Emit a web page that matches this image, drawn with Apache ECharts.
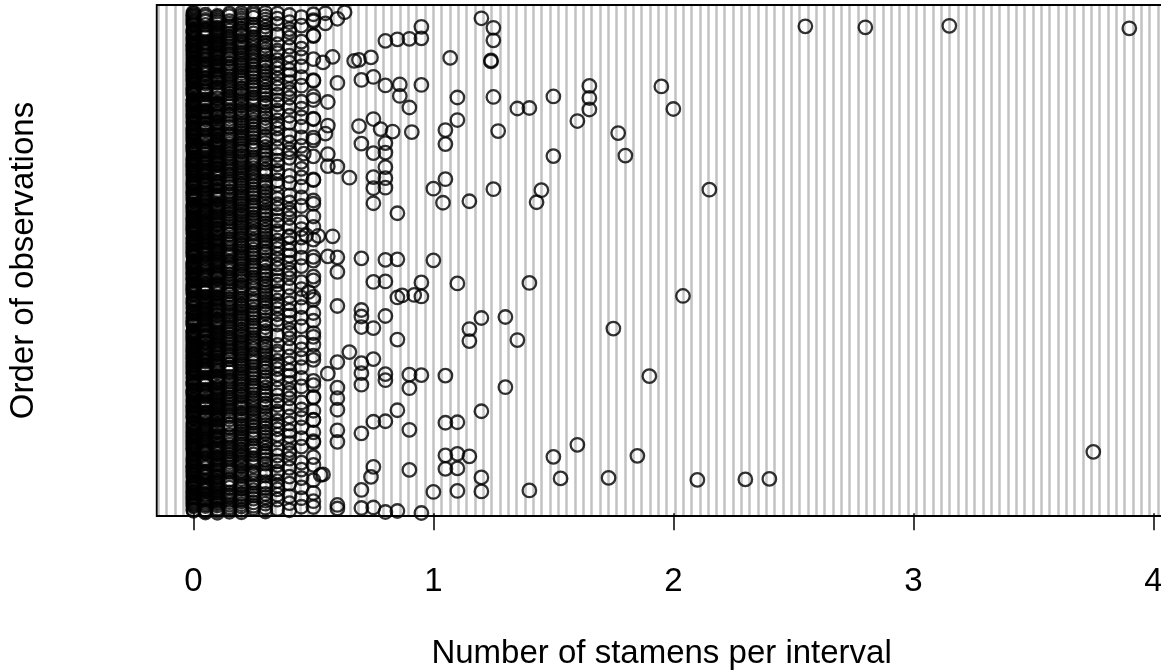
<!DOCTYPE html>
<html>
<head>
<meta charset="utf-8">
<script src="https://cdn.jsdelivr.net/npm/echarts@6/dist/echarts.min.js"></script>
<style>
  html, body { margin: 0; padding: 0; background: #fff; }
  #chart { width: 1161px; height: 671px; }
</style>
</head>
<body>
<div id="chart"></div>
<script>
// Number of stamens per interval, in order of observation (observation 1 = bottom of the plot)
const stamens = [
  // observations 1-80
  0.95,0.1,0.05,0.2,0.8,0.15,0.3,0.05,0.85,0, 0.1,0.4,0.05,0.2,0,0.15,0.35,0.1,0.6,0.25,
  0.7,0.3,0.75,0.15,0.5,0.45,0.2,0,0.05,0.25, 0.1,0,0.6,0.15,0.05,0.2,0,0.3,0.1,0.4,
  0,0.05,0.25,0.15,0.1,0,0.2,0.5,0.05,0.3, 0,0.1,0.15,0.35,0.05,0.2,0,0.25,0.1,0.45,
  0.05,0,0.3,0.15,0.1,0.2,0,0.4,0.05,0.25, 0.1,0,0.15,0.35,0.05,0.2,0.3,0,0.1,0.25,
  // 81-160
  0.5,0,0.15,0.1,1,0,1.2,0.05,1.1,0.1, 1.4,0.25,0.7,0.05,0.35,0,0.1,0.2,0.05,0.3,
  0,0.15,0.45,0.1,0.05,0.25,0,0.2,0.1,0.35, 0.05,0,0.3,0.15,0.2,0.1,0,0.4,0.05,0.25,
  0.1,0,0.15,0.3,0.05,0.2,0,0.35,0.1,0.25, 0.05,0.5,2.1,0.15,2.3,0.2,2.4,0,1.53,0.45,
  1.73,0.1,1.2,0.05,0.74,0.4,0,0.2,0.1,0.3, 0.05,0,0.53,0.25,0.54,0.35,0,0.2,0.05,0.3,
  // 161-240
  0.1,0.05,0.25,0,0.15,0.35,0.05,0,0.2,0.1, 0.3,0,0.9,0.45,0.15,0.1,1.05,0,1.1,0.05,
  0.4,0,0.1,0.15,0.75,0.05,0,0.2,0.25,0.1, 0,0.35,0.5,0.15,0.1,0,0.2,0.3,0.05,0.25,
  0.1,0.45,0,0.15,0.05,0.2,0.35,0,0.1,0.25, 0.05,0,0.3,0.15,0.2,0.1,0,0.4,0.05,0.25,
  0,0.15,0.1,0.5,1.5,0.2,1.15,0.3,1.85,0.35, 1.05,0,0.2,0.15,0.25,0.1,1.1,0.3,0.05,0.4,
  // 241-320
  0,0.1,0.05,0.2,3.75,0.15,0.3,0.05,0.25,0, 0.1,0.4,0.05,0.2,0,0.15,0.35,0.1,0,0.25,
  0.05,0.3,0,0.15,0.1,0.45,0.2,0,0.05,0.25, 0.1,0,1.6,0.15,0.05,0.2,0,0.3,0.1,0.4,
  0,0.05,0.5,0.15,0.6,0,0.2,0.5,0.05,0.3, 0,0.1,0.15,0.35,0.05,0.2,0,0.25,0.1,0.45,
  0.05,0,0.3,0.15,0.1,0.2,0,0.4,0.05,0.25, 0.1,0,0.15,0.35,0.05,0.2,0.3,0,0.7,0.25,
  // 321-400
  0.05,0,0.5,0.1,0.3,0,0.2,0.05,0.4,0.1, 0.6,0.25,0.9,0.05,0.35,0,0.1,0.2,0.05,0.3,
  0,0.15,0.45,0.1,0.05,0.25,0,0.2,0.1,0.35, 0.05,0,0.3,0.15,0.2,0.1,0,0.4,0.05,0.25,
  1.05,0,1.1,0.3,0.75,0.2,0.8,0.35,0.1,0.25, 0.05,0.5,0.5,0.15,0.1,0.2,0.3,0,0.05,0.45,
  0,0.1,0.25,0.05,0.15,0.4,0,0.2,0.1,0.3, 0.05,0,0.15,0.25,0.1,0.35,0,0.2,0.05,0.3,
  // 401-480
  0.1,0.05,0.25,0,0.15,0.35,1.2,0,0.5,0.1, 0.85,0,0.6,0.45,0.15,0.1,0.25,0,0.2,0.05,
  0.4,0,0.1,0.15,0.3,0.05,0,0.2,0.25,0.1, 0,0.35,0.05,0.15,0.1,0,0.2,0.3,0.05,0.25,
  0.1,0.45,0,0.15,0.05,0.2,0.35,0,0.1,0.25, 0.05,0,0.3,0.15,0.2,0.1,0,0.4,0.6,0.25,
  0.5,0.15,0.1,0.5,0.05,0.2,0,0.3,0.1,0.35, 0.05,0,0.2,0.15,0.25,0.1,0,0.3,0.05,0.4,
  // 481-560
  0,0.1,0.05,0.2,0,0.15,0.3,0.05,0.25,0, 0.1,0.4,0.05,0.2,0,0.15,0.35,0.1,0.9,0.25,
  0.6,0.3,1.3,0.15,0.1,0.45,0.2,0,0.05,0.25, 0.5,0,0.7,0.15,0.05,0.2,0,0.3,0.1,0.4,
  0,0.05,0.25,0.15,0.1,0,0.2,0.5,0.05,0.3, 0.8,0.1,0.15,0.35,0.05,0.2,0,0.25,0.1,0.45,
  0.05,0,0.3,0.15,0.1,0.2,1.9,0.4,1.05,0.25, 0.95,0,0.9,0.35,0.8,0.2,0.56,0,0.7,0.25,
  // 561-640
  0.05,0,0.15,0.1,0.3,0,0.2,0.05,0.4,0.1, 0,0.25,0.15,0.05,0.35,0,0.1,0.2,0.05,0.3,
  0,0.15,0.45,0.1,0.05,0.25,0,0.2,0.1,0.35, 0.05,0,0.3,0.15,0.2,0.1,0,0.4,0.7,0.25,
  0.1,0,0.6,0.3,0.05,0.2,0,0.35,0.1,0.25, 0.05,0.5,0,0.15,0.75,0.2,0.3,0,0.05,0.45,
  0,0.1,0.25,0.05,0.15,0.4,0,0.2,0.5,0.3, 0.05,0,0.15,0.25,0.1,0.35,0,0.2,0.05,0.3,
  // 641-720
  0.1,0.05,0.65,0,0.15,0.35,0.05,0,0.2,0.1, 0.3,0,0.05,0.45,0.15,0.1,0.25,0,0.2,0.05,
  0.4,0,0.1,0.15,0.3,0.05,0,0.2,0.25,0.1, 0,0.35,0.5,0.15,0.1,0,0.2,0.3,0.05,0.25,
  0.1,0.45,0,0.15,0.05,0.2,1.15,0,0.1,0.25, 1.35,0,0.85,0.15,0.2,0.1,0,0.4,0.05,0.25,
  0,0.15,0.1,0.5,0.05,0.2,0,0.3,0.1,0.35, 0.05,0,0.2,0.15,0.25,0.1,0,0.3,0.5,0.4,
  // 721-800
  0,0.1,0.05,0.2,0,0.15,0.3,0.05,0.25,0, 0.1,0.4,0.05,0.2,1.15,0.15,1.75,0.1,0.75,0.25,
  0.05,0.3,0.7,0.15,0.1,0.45,0.2,0,0.05,0.25, 0.1,0,0.35,0.15,0.05,0.2,0,0.3,0.1,0.4,
  0,0.05,0.25,0.15,0.1,0,0.2,0.5,0.05,0.3, 0,0.1,0.15,0.35,0.05,0.2,0,0.25,1.2,0.45,
  0.05,0,1.3,0.15,0.7,0.2,0.8,0.4,0.05,0.25, 0.1,0,0.15,0.35,0.05,0.2,0.3,0,0.5,0.25,
  // 801-880
  0.05,0,0.15,0.1,0.3,0,0.2,0.05,0.4,0.1, 0.7,0.25,0.15,0.05,0.35,0,0.1,0.2,0.05,0.3,
  0,0.15,0.45,0.1,0.05,0.25,0.6,0.2,0.1,0.35, 0.05,0,0.3,0.15,0.2,0.1,0,0.4,0.05,0.25,
  0.1,0,0.15,0.3,0.05,0.2,0,0.35,0.1,0.25, 0.05,0.5,0,0.15,0.1,0.2,0.3,0,0.05,0.45,
  0.85,0.1,0.5,0.05,0.95,0.4,2.04,0.2,0.87,0.3, 0.92,0,0.15,0.25,0.1,0.35,0,0.2,0.05,0.3,
  // 881-960
  0.1,0.05,0.48,0,0.15,0.35,0.05,0,0.2,0.1, 0.3,0,0.05,0.45,0.15,0.1,0.25,0,0.2,0.05,
  0.4,0,0.1,0.15,0.3,0.05,0,0.2,0.25,0.1, 0,0.35,0.05,0.15,0.1,0,1.1,0.3,1.4,0.25,
  0.95,0.45,0.75,0.15,0.8,0.2,0.35,0,0.5,0.25, 0.05,0,0.3,0.15,0.2,0.1,0,0.4,0.05,0.25,
  0,0.15,0.1,0.5,0.05,0.2,0,0.3,0.1,0.35, 0.05,0,0.2,0.15,0.25,0.1,0,0.3,0.05,0.4,
  // 961-1040
  0,0.1,0.6,0.2,0,0.15,0.3,0.05,0.25,0, 0.1,0.4,0.05,0.2,0,0.15,0.35,0.1,0,0.25,
  0.05,0.3,0,0.15,0.1,0.45,0.2,0,0.05,0.25, 0.1,0,0.35,0.15,0.05,0.2,0,0.3,0.1,0.4,
  0,0.05,0.25,0.15,0.1,0,0.2,0.5,1,0.3, 0.8,0.1,0.85,0.35,0.05,0.2,0.7,0.25,0.1,0.45,
  0.6,0,0.5,0.15,0.56,0.2,0,0.4,0.05,0.25, 0.1,0,0.15,0.35,0.05,0.2,0.3,0,0.1,0.25,
  // 1041-1120
  0.05,0,0.15,0.1,0.3,0,0.2,0.05,0.4,0.1, 0,0.25,0.15,0.05,0.35,0,0.1,0.2,0.05,0.3,
  0,0.15,0.45,0.1,0.05,0.25,0,0.2,0.1,0.35, 0.05,0,0.3,0.15,0.2,0.1,0,0.4,0.05,0.25,
  0.1,0,0.15,0.3,0.05,0.2,0,0.35,0.1,0.25, 0.05,0.5,0,0.15,0.1,0.2,0.3,0,0.05,0.45,
  0,0.1,0.4,0.05,0.58,0.4,0.52,0.2,0.47,0.3, 0.05,0,0.15,0.25,0.1,0.35,0,0.2,0.05,0.3,
  // 1121-1200
  0.1,0.05,0.25,0,0.15,0.35,0.05,0,0.2,0.1, 0.3,0,0.05,0.45,0.15,0.1,0.25,0,0.2,0.05,
  0.4,0,0.5,0.15,0.3,0.05,0,0.2,0.25,0.1, 0,0.35,0.05,0.15,0.1,0,0.2,0.3,0.05,0.25,
  0.1,0.45,0,0.15,0.05,0.2,0.35,0,0.1,0.25, 0.05,0,0.3,0.15,0.2,0.1,0,0.4,0.05,0.25,
  0,0.15,0.1,0.5,0.05,0.2,0,0.3,0.1,0.35, 0.05,0,0.2,0.15,0.25,0.1,0.85,0.3,0.05,0.4,
  // 1201-1280
  0,0.1,0.05,0.2,0,0.15,0.3,0.05,0.25,0, 0.1,0.4,0.05,0.2,0,0.15,0.35,0.1,0,0.25,
  0.05,0.3,0,0.15,0.1,0.45,0.2,0,0.05,0.25, 0.1,0,0.35,0.15,0.5,0.2,0.75,0.3,1.04,0.4,
  1.43,0.05,0.25,0.15,1.15,0,0.2,0.5,0.05,0.3, 0,0.1,0.15,0.35,0.05,0.2,0,0.25,0.1,0.45,
  0.05,0,0.3,0.15,0.1,0.2,0,0.4,0.05,0.25, 0.1,0,0.15,0.35,0.05,0.2,0.3,0,0.1,0.25,
  // 1281-1360
  0.05,0,0.15,0.1,0.3,0,0.2,0.05,1.45,0.1, 2.15,0.25,1.25,0.05,1,0,0.75,0.2,0.8,0.3,
  0,0.15,0.45,0.1,0.05,0.25,0,0.2,0.1,0.35, 0.05,0,0.3,0.15,0.2,0.1,0,0.4,0.05,0.25,
  0.1,0,0.15,0.3,0.05,0.2,0,0.35,0.5,0.25, 0.05,0.5,1.05,0.15,0.1,0.2,0.8,0,0.65,0.45,
  0.75,0.1,0.25,0.05,0.15,0.4,0,0.2,0.1,0.3, 0.05,0,0.15,0.25,0.1,0.35,0,0.2,0.05,0.3,
  // 1361-1440
  0.1,0.05,0.25,0,0.15,0.35,0.05,0,0.2,0.1, 0.3,0,0.05,0.45,0.15,0.1,0.25,0,0.2,0.05,
  0.8,0,0.6,0.15,0.56,0.05,0,0.2,0.25,0.1, 0,0.35,0.05,0.15,0.1,0,0.2,0.3,0.05,0.25,
  0.1,0.45,0,0.15,0.05,0.2,0.35,0,0.1,0.25, 0.05,0,0.3,0.15,0.2,0.1,0,0.4,0.05,0.25,
  0,0.15,0.1,0.5,1.5,0.2,1.8,0.3,0.1,0.35, 0.05,0,0.56,0.15,0.46,0.1,0.75,0.3,0.8,0.4,
  // 1441-1520
  0,0.1,0.05,0.2,0,0.15,0.3,0.05,0.25,0, 0.1,0.4,0.05,0.2,0,0.15,0.35,0.1,0,0.25,
  0.05,0.3,0,0.15,0.1,0.45,0.2,0,0.05,0.25, 0.1,0,1.05,0.15,0.7,0.2,0.8,0.3,0.1,0.4,
  0,0.05,0.25,0.15,0.1,0,0.2,0.5,0.05,0.3, 0,0.1,0.15,0.35,0.05,0.2,0,0.25,0.5,0.45,
  0.05,0,0.3,0.15,0.1,0.2,0,0.4,0.05,0.25, 0.1,0,0.15,0.35,0.55,0.2,1.77,0,0.1,0.25,
  // 1521-1600
  0.91,0,0.83,0.1,1.27,0,0.2,0.05,1.05,0.1, 0,0.25,0.78,0.05,0.35,0,0.1,0.2,0.05,0.3,
  0,0.15,0.45,0.1,0.69,0.25,0.56,0.2,0.1,0.35, 0.05,0,0.3,0.15,0.2,0.1,0,0.4,0.05,0.25,
  0.1,0,0.15,0.3,1.6,0.2,0,0.35,1.1,0.25, 0.05,0.5,0.75,0.15,0.5,0.2,0.3,0,0.05,0.45,
  0,0.1,0.25,0.05,0.15,0.4,0,0.2,0.1,0.3, 0.05,0,0.15,0.25,0.1,0.35,0,0.2,0.05,0.3,
  // 1601-1680
  0.1,0.05,0.25,0,0.15,0.35,0.05,0,0.2,0.1, 1.65,0,2,0.45,1.35,0.1,1.4,0,0.9,0.05,
  0.4,0,0.1,0.15,0.3,0.05,0,0.2,0.25,0.1, 0,0.35,0.05,0.15,0.1,0,0.2,0.3,0.05,0.25,
  0.56,0.45,0,0.15,0.05,0.2,0.35,0,0.5,0.25, 0.05,0,0.3,0.15,0.2,0.1,1.65,0.4,1.1,0.25,
  1.25,0.15,1.5,0.5,0.86,0.2,0,0.3,0.1,0.35, 0.05,0,0.2,0.15,0.25,0.1,0,0.3,0.05,0.4,
  // 1681-1760
  0,0.1,0.05,0.2,0,0.15,0.3,0.05,0.25,0, 0.1,0.4,0.05,0.2,0,0.15,0.35,0.1,0,0.25,
  0.05,0.3,1.95,0.15,1.65,0.45,0.8,0,0.95,0.25, 0.86,0,0.35,0.15,0.05,0.2,0.6,0.3,0.1,0.4,
  0,0.05,0.25,0.15,0.5,0,0.2,0.5,0.7,0.3, 0,0.1,0.15,0.35,0.05,0.2,0,0.25,0.1,0.45,
  0.75,0,0.3,0.15,0.1,0.2,0,0.4,0.05,0.25, 0.1,0,0.15,0.35,0.05,0.2,0.3,0,0.1,0.25,
  // 1761-1840
  0.05,0,0.15,0.1,0.3,0,0.2,0.05,0.4,0.1, 0,0.25,0.15,0.05,0.35,0,0.1,0.2,0.05,0.3,
  0,0.15,0.45,0.1,0.05,0.25,0,0.2,0.1,0.35, 0.05,0,0.3,0.15,0.2,0.1,0,0.4,0.54,0.25,
  0.1,0,1.24,0.3,0.67,0.2,1.24,0.35,0.69,0.25, 0.05,0.5,0,0.15,0.1,0.2,1.07,0,0.74,0.45,
  0.58,0.1,0.25,0.05,0.15,0.4,0,0.2,0.1,0.3, 0.05,0,0.15,0.25,0.1,0.35,0,0.2,0.05,0.3,
  // 1841-1920
  0.1,0.05,0.25,0,0.15,0.35,0.05,0,0.2,0.1, 0.3,0,0.05,0.45,0.15,0.1,0.25,0,0.2,0.05,
  0.4,0,0.1,0.15,0.3,0.05,0,0.2,0.25,0.1, 0,0.35,0.05,0.15,0.1,0,0.2,0.3,0.05,0.25,
  0.1,0.45,0,0.15,0.8,0.2,1.25,0,0.1,0.25, 0.85,0,0.9,0.15,0.95,0.1,0,0.4,0.05,0.25,
  0,0.15,0.1,0.5,0.05,0.2,0.5,0.3,0.1,0.35, 0.05,0,0.2,0.15,0.25,0.1,0,0.3,0.05,0.4,
  // 1921-2000
  0,0.1,0.05,0.2,0,0.15,0.3,0.05,0.25,0, 0.1,0.4,0.05,0.2,3.9,0.15,1.25,0.1,2.8,0.25,
  0.95,0.3,2.55,0.15,3.15,0.45,0.2,0,0.05,0.25, 0.1,0,0.35,0.15,0.55,0.2,0,0.3,0.1,0.4,
  0,0.05,0.5,0.15,0.1,0,0.2,0.5,0.05,0.3, 0,0.1,0.6,0.35,1.2,0.2,0,0.25,0.1,0.45,
  0.05,0,0.3,0.15,0.1,0.2,0,0.4,0.05,0.25, 0.5,0,0.15,0.35,0.55,0.2,0.3,0,0.63,0.25
];
const xTickValues = [0, 1, 2, 3, 4];
const xAxisTitle = 'Number of stamens per interval';
const yAxisTitle = 'Order of observations';
const stripeCount = 121;

const points = stamens.map((v, i) => [v, i + 1]);
const font = '"Liberation Sans", Arial, Helvetica, sans-serif';

const chart = echarts.init(document.getElementById('chart'), null, { renderer: 'canvas' });
chart.setOption({
  animation: false,
  backgroundColor: '#ffffff',
  grid: [
    { left: 156.7, right: -5.5, top: 5, bottom: 155, show: true, z: 5, outerBoundsMode: 'none', containLabel: false,
      borderColor: '#000', borderWidth: 1.8, backgroundColor: 'transparent' },
    { left: 158.3, width: 8.33 * 121, top: 5, bottom: 155, show: false, outerBoundsMode: 'none', containLabel: false }
  ],
  xAxis: [
    {
      gridIndex: 0, type: 'value', min: -0.153, max: 4.055,
      name: xAxisTitle, nameLocation: 'middle', nameGap: 121,
      nameTextStyle: { fontSize: 33, color: '#000', fontFamily: font },
      axisLine: { show: false },
      axisTick: { show: true, length: 17, customValues: xTickValues, lineStyle: { color: '#000', width: 1.5 } },
      axisLabel: { show: true, customValues: xTickValues, margin: 49, fontSize: 33, color: '#000', fontFamily: font },
      splitLine: { show: false }
    },
    {
      gridIndex: 1, type: 'value', min: 0, max: stripeCount, interval: 1,
      axisLine: { show: false }, axisTick: { show: false }, axisLabel: { show: false },
      splitLine: { show: true, lineStyle: { color: '#c2c2c2', width: 2.5 } }
    }
  ],
  yAxis: [
    {
      gridIndex: 0, type: 'value', min: -11, max: 2028,
      name: yAxisTitle, nameLocation: 'middle', nameGap: 116, nameRotate: 90,
      nameTextStyle: { fontSize: 33, color: '#000', fontFamily: font },
      axisLine: { show: false }, axisTick: { show: false }, axisLabel: { show: false },
      splitLine: { show: false }
    },
    { gridIndex: 1, type: 'value', min: 0, max: 1, show: false, splitLine: { show: false } }
  ],
  series: [
    {
      type: 'scatter', xAxisIndex: 0, yAxisIndex: 0,
      data: points,
      symbol: 'circle', symbolSize: 13.5,
      large: false, progressive: 0,
      itemStyle: { color: 'rgba(0,0,0,0)', borderColor: '#000', borderWidth: 2.3 },
      emphasis: { disabled: true },
      z: 3
    }
  ]
});
</script>
</body>
</html>
